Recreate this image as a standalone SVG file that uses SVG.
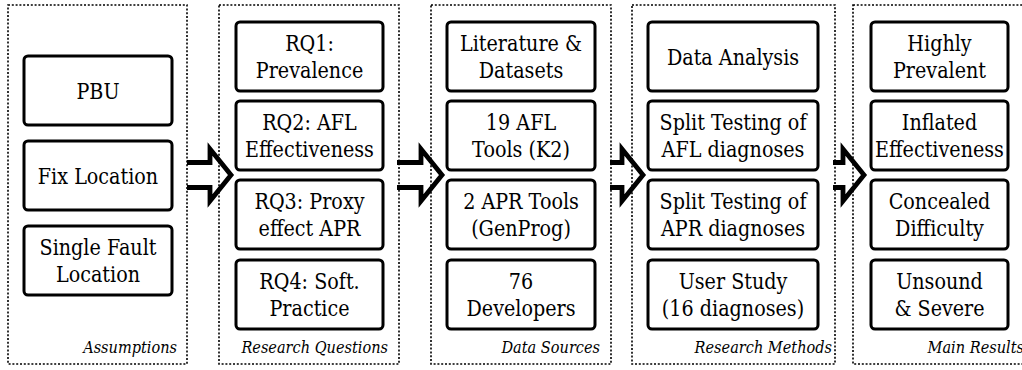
<svg xmlns="http://www.w3.org/2000/svg" width="1022" height="370" viewBox="0 0 1022 370">
<style>
.stage{fill:none;stroke:#000;stroke-width:1.6;stroke-dasharray:2 1.8}
.box{fill:#fff;stroke:#000;stroke-width:3}
.t{font-family:'DejaVu Serif',serif;font-size:22.8px;text-anchor:middle;fill:#000}
.cap{font-family:'DejaVu Serif',serif;font-size:17.5px;font-style:italic;text-anchor:end;fill:#000}
.arrow{fill:none;stroke:#000;stroke-width:4.8;stroke-miterlimit:10}
</style>
<rect width="1022" height="370" fill="#fff"/>
<g id="connectors">
<path class="arrow" d="M187,162.5 H210 V149 L231,175 L210,201 V187.5 H187"/>
<path class="arrow" d="M397,162.5 H421 V149 L442,175 L421,201 V187.5 H397"/>
<path class="arrow" d="M610,162.5 H622 V149 L643,175 L622,201 V187.5 H610"/>
<path class="arrow" d="M833,162.5 H843 V149 L864,175 L843,201 V187.5 H833"/>
</g>
<g id="stage-assumptions">
<rect class="stage" x="8" y="5" width="179" height="359"/>
<text class="cap" transform="translate(177,353) scale(0.83,1)">Assumptions</text>
</g>
<g id="stage-questions">
<rect class="stage" x="219" y="5" width="180" height="359"/>
<text class="cap" transform="translate(388,353) scale(0.83,1)">Research Questions</text>
</g>
<g id="stage-sources">
<rect class="stage" x="431" y="5" width="180" height="359"/>
<text class="cap" transform="translate(600,353) scale(0.83,1)">Data Sources</text>
</g>
<g id="stage-methods">
<rect class="stage" x="632" y="5" width="203" height="359"/>
<text class="cap" transform="translate(832,353) scale(0.83,1)">Research Methods</text>
</g>
<g id="stage-results">
<rect class="stage" x="853" y="5" width="185" height="359"/>
<text class="cap" transform="translate(1024,353) scale(0.83,1)">Main Results</text>
</g>

<g id="pbu"><rect class="box" x="24" y="56" width="148" height="69" rx="4"/><text class="t" transform="translate(98,98.8) scale(0.84,1)">PBU</text></g>
<g id="fix-location"><rect class="box" x="24" y="141" width="148" height="69" rx="4"/><text class="t" transform="translate(98,183.8) scale(0.84,1)">Fix Location</text></g>
<g id="single-fault"><rect class="box" x="24" y="226" width="148" height="69" rx="4"/><text class="t" transform="translate(98,254.7) scale(0.84,1)">Single Fault</text><text class="t" transform="translate(98,282.3) scale(0.84,1)">Location</text></g>

<g id="rq1"><rect class="box" x="236" y="22" width="147" height="69" rx="4"/><text class="t" transform="translate(309.5,50.7) scale(0.84,1)">RQ1:</text><text class="t" transform="translate(309.5,78.3) scale(0.84,1)">Prevalence</text></g>
<g id="rq2"><rect class="box" x="236" y="101" width="147" height="69" rx="4"/><text class="t" transform="translate(309.5,129.7) scale(0.84,1)">RQ2: AFL</text><text class="t" transform="translate(309.5,157.3) scale(0.84,1)">Effectiveness</text></g>
<g id="rq3"><rect class="box" x="236" y="180" width="147" height="69" rx="4"/><text class="t" transform="translate(309.5,208.7) scale(0.84,1)">RQ3: Proxy</text><text class="t" transform="translate(309.5,236.3) scale(0.84,1)">effect APR</text></g>
<g id="rq4"><rect class="box" x="236" y="260" width="147" height="69" rx="4"/><text class="t" transform="translate(309.5,288.7) scale(0.84,1)">RQ4: Soft.</text><text class="t" transform="translate(309.5,316.3) scale(0.84,1)">Practice</text></g>

<g id="literature"><rect class="box" x="447" y="22" width="148" height="69" rx="4"/><text class="t" transform="translate(521,50.7) scale(0.84,1)">Literature &amp;</text><text class="t" transform="translate(521,78.3) scale(0.84,1)">Datasets</text></g>
<g id="afl-tools"><rect class="box" x="447" y="101" width="148" height="69" rx="4"/><text class="t" transform="translate(521,129.7) scale(0.84,1)">19 AFL</text><text class="t" transform="translate(521,157.3) scale(0.84,1)">Tools (K2)</text></g>
<g id="apr-tools"><rect class="box" x="447" y="180" width="148" height="69" rx="4"/><text class="t" transform="translate(521,208.7) scale(0.84,1)">2 APR Tools</text><text class="t" transform="translate(521,236.3) scale(0.84,1)">(GenProg)</text></g>
<g id="developers"><rect class="box" x="447" y="260" width="148" height="69" rx="4"/><text class="t" transform="translate(521,288.7) scale(0.84,1)">76</text><text class="t" transform="translate(521,316.3) scale(0.84,1)">Developers</text></g>

<g id="data-analysis"><rect class="box" x="648" y="22" width="170" height="69" rx="4"/><text class="t" transform="translate(733,64.8) scale(0.84,1)">Data Analysis</text></g>
<g id="split-afl"><rect class="box" x="648" y="101" width="170" height="69" rx="4"/><text class="t" transform="translate(733,129.7) scale(0.84,1)">Split Testing of</text><text class="t" transform="translate(733,157.3) scale(0.84,1)">AFL diagnoses</text></g>
<g id="split-apr"><rect class="box" x="648" y="180" width="170" height="69" rx="4"/><text class="t" transform="translate(733,208.7) scale(0.84,1)">Split Testing of</text><text class="t" transform="translate(733,236.3) scale(0.84,1)">APR diagnoses</text></g>
<g id="user-study"><rect class="box" x="648" y="260" width="170" height="69" rx="4"/><text class="t" transform="translate(733,288.7) scale(0.84,1)">User Study</text><text class="t" transform="translate(733,316.3) scale(0.84,1)">(16 diagnoses)</text></g>

<g id="highly-prevalent"><rect class="box" x="871" y="22" width="137" height="69" rx="4"/><text class="t" transform="translate(939.5,50.7) scale(0.84,1)">Highly</text><text class="t" transform="translate(939.5,78.3) scale(0.84,1)">Prevalent</text></g>
<g id="inflated"><rect class="box" x="871" y="101" width="137" height="69" rx="4"/><text class="t" transform="translate(939.5,129.7) scale(0.84,1)">Inflated</text><text class="t" transform="translate(939.5,157.3) scale(0.84,1)">Effectiveness</text></g>
<g id="concealed"><rect class="box" x="871" y="180" width="137" height="69" rx="4"/><text class="t" transform="translate(939.5,208.7) scale(0.84,1)">Concealed</text><text class="t" transform="translate(939.5,236.3) scale(0.84,1)">Difficulty</text></g>
<g id="unsound"><rect class="box" x="871" y="260" width="137" height="69" rx="4"/><text class="t" transform="translate(939.5,288.7) scale(0.84,1)">Unsound</text><text class="t" transform="translate(939.5,316.3) scale(0.84,1)">&amp; Severe</text></g>
</svg>
